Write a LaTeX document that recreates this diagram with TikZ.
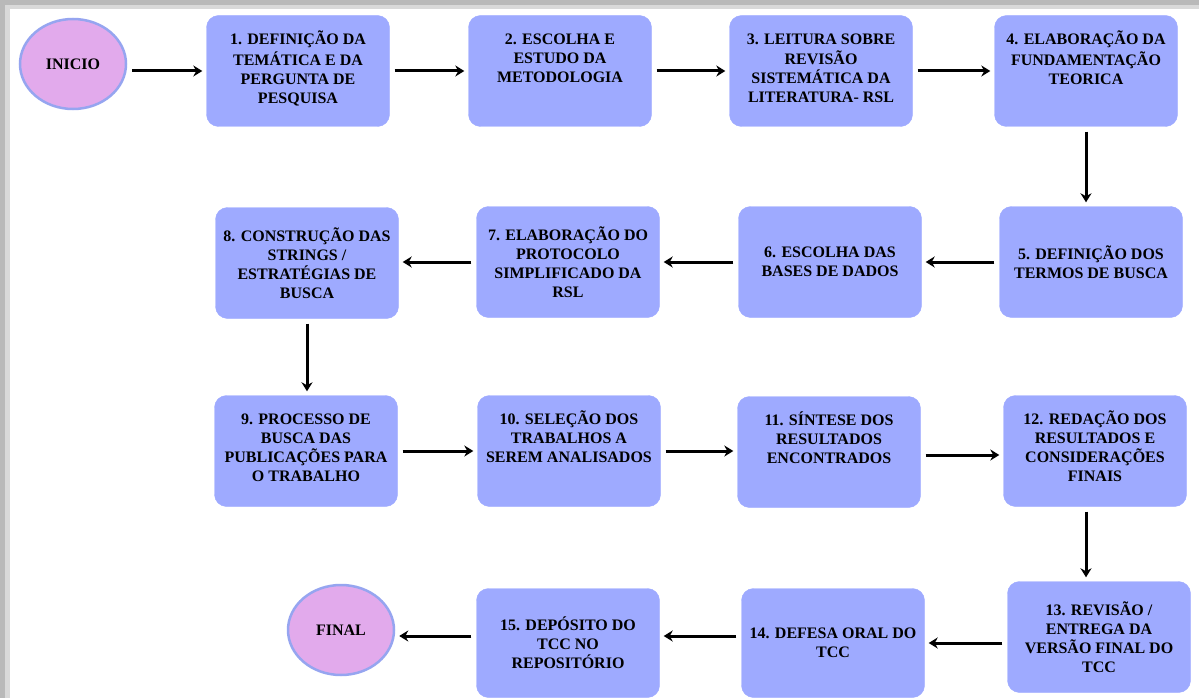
\documentclass[tikz,border=0pt]{standalone}
\usepackage{fontspec}
\setmainfont{Liberation Serif}
\usetikzlibrary{arrows.meta,shapes.geometric}
\definecolor{azulcaixa}{RGB}{158,170,255}
\definecolor{lilas}{RGB}{226,170,236}
\definecolor{azulborda}{RGB}{150,165,240}
\tikzstyle{etapa} = [rectangle, rounded corners=12pt, fill=azulcaixa, draw=azulcaixa, minimum width=183pt, minimum height=111pt, align=center, inner sep=2pt, font=\bfseries\fontsize{16}{19}\selectfont]
\tikzstyle{terminal} = [ellipse, fill=lilas, draw=azulborda, line width=2.5pt, minimum width=106pt, minimum height=90pt, inner sep=0pt, font=\bfseries\fontsize{16}{19}\selectfont]
\tikzstyle{seta} = [-{Stealth[length=9pt,width=11pt]}, line width=3pt, shorten <=5pt, shorten >=4pt]
\newcommand{\topo}[1]{\parbox[c][80pt][t]{178pt}{\centering\strut #1}}

\begin{document}
\begin{tikzpicture}[x=1pt, y=-1pt]

            \useasboundingbox (0,0) rectangle (1199,698);
            \fill[gray!55] (0,0) rectangle (1199,698);
            \fill[gray!30] (5,5) rectangle (1199,698);
            \fill[white] (10,9) rectangle (1199,698);

            %% linha 1

            \node (inicio) [terminal] at (73,64) {INICIO};
            \node (n1) [etapa] at (298,71) {\topo{1. DEFINIÇÃO DA\\ TEMÁTICA E DA\\ PERGUNTA DE\\ PESQUISA}};
            \node (n2) [etapa] at (560,71) {\topo{2. ESCOLHA E\\ ESTUDO DA\\ METODOLOGIA}};
            \node (n3) [etapa] at (821,71) {\topo{3. LEITURA SOBRE\\ REVISÃO\\ SISTEMÁTICA DA\\ LITERATURA- RSL}};
            \node (n4) [etapa] at (1086,71) {\topo{4. ELABORAÇÃO DA\\ FUNDAMENTAÇÃO\\ TEORICA}};

            \draw[seta] (n1.west -| inicio.east) -- (n1.west);
            \draw[seta] (n1) -- (n2);
            \draw[seta] (n2) -- (n3);
            \draw[seta] (n3) -- (n4);

            %% linha 2

            \node (n5) [etapa] at (1091,262) {5. DEFINIÇÃO DOS\\ TERMOS DE BUSCA};
            \node (n6) [etapa] at (830,262) {6. ESCOLHA DAS\\ BASES DE DADOS};
            \node (n7) [etapa] at (568,262) {7. ELABORAÇÃO DO\\ PROTOCOLO\\ SIMPLIFICADO DA\\ RSL};
            \node (n8) [etapa] at (307,263) {8. CONSTRUÇÃO DAS\\ STRINGS /\\ ESTRATÉGIAS DE\\ BUSCA};

            \draw[seta] (n4.south) -- (n4.south |- n5.north);
            \draw[seta] (n5.west) -- (n5.west -| n6.east);
            \draw[seta] (n6) -- (n7);
            \draw[seta] (n7.west) -- (n7.west -| n8.east);

            %% linha 3

            \node (n9) [etapa] at (306,451) {\topo{9. PROCESSO DE\\ BUSCA DAS\\ PUBLICAÇÕES PARA\\ O TRABALHO}};
            \node (n10) [etapa] at (569,451) {\topo{10. SELEÇÃO DOS\\ TRABALHOS A\\ SEREM ANALISADOS}};
            \node (n11) [etapa] at (829,452) {\topo{11. SÍNTESE DOS\\ RESULTADOS\\ ENCONTRADOS}};
            \node (n12) [etapa] at (1095,451) {\topo{12. REDAÇÃO DOS\\ RESULTADOS E\\ CONSIDERAÇÕES\\ FINAIS}};

            \draw[seta] (n8.south) -- (n8.south |- n9.north);
            \draw[seta] (n9.east) -- (n9.east -| n10.west);
            \draw[seta] (n10.east) -- (n10.east -| n11.west);
            \draw[seta] ([yshift=-3pt]n11.east) -- ([yshift=-3pt]n11.east -| n12.west);

            %% linha 4

            \node (n13) [etapa] at (1099,637) {13. REVISÃO /\\ ENTREGA DA\\ VERSÃO FINAL DO\\ TCC};
            \node (n14) [etapa, minimum height=109pt] at (833,643) {14. DEFESA ORAL DO\\ TCC};
            \node (n15) [etapa, minimum height=109pt] at (568,643) {15. DEPÓSITO DO\\ TCC NO\\ REPOSITÓRIO};
            \node (final) [terminal] at (341,630) {FINAL};

            \draw[seta] ([xshift=-9pt]n12.south) -- ([xshift=-9pt]n12.south |- n13.north);
            \draw[seta] (n14.east -| n13.west) -- (n14.east);
            \draw[seta] ([yshift=7pt]n14.west) -- ([yshift=7pt]n14.west -| n15.east);
            \draw[seta] ([yshift=7pt]n15.west) -- ([yshift=7pt]n15.west -| final.east);

        \end{tikzpicture}
\end{document}
